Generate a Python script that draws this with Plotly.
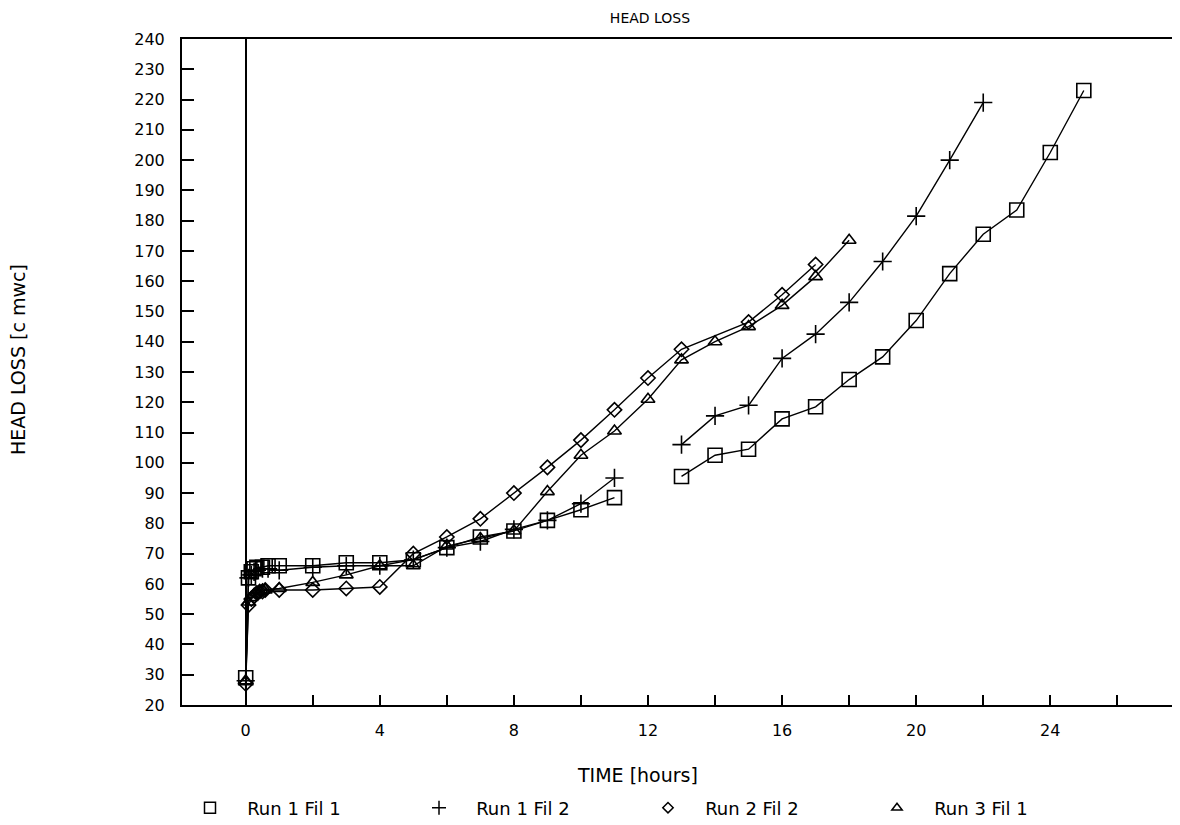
import plotly.graph_objects as go

# ---- data (time in hours, head loss in cm water column) ----
t_run1_fil1 = [0, 0.083, 0.167, 0.25, 0.333, 0.5, 0.667, 1, 2, 3, 4, 5, 6, 7, 8, 9, 10, 11, 12,
               13, 14, 15, 16, 17, 18, 19, 20, 21, 22, 23, 24, 25]
hl_run1_fil1 = [29, 62, 64, 65, 65.5, 65.5, 66, 66, 66, 67, 67, 68, 72, 75.5, 77.5, 81, 84.5, 88.5, None,
                95.5, 102.5, 104.5, 114.5, 118.5, 127.5, 135, 147, 162.5, 175.5, 183.5, 202.5, 223]

t_run1_fil2 = [0, 0.083, 0.167, 0.25, 0.333, 0.5, 0.667, 1, 2, 3, 4, 5, 6, 7, 8, 9, 10, 11, 12,
               13, 14, 15, 16, 17, 18, 19, 20, 21, 22]
hl_run1_fil2 = [28, 62, 63, 64, 64.5, 65, 65, 64.5, 65.5, 66, 66, 68, 72, 74, 78, 81, 86.5, 95, None,
                106, 115.5, 119, 134.5, 142.5, 153, 166.5, 181.5, 200, 219]

t_run2_fil2 = [0, 0.083, 0.167, 0.25, 0.333, 0.417, 0.5, 0.583, 1, 2, 3, 4, 5, 6, 7, 8, 9, 10, 11, 12,
               13, 15, 16, 17]
hl_run2_fil2 = [27, 53, 55, 56, 57, 57.5, 57.5, 58, 58, 58, 58.5, 59, 70, 75.5, 81.5, 90, 98.5, 107.5, 117.5, 128,
                137.5, 146.5, 155.5, 165.5]

t_run3_fil1 = [0, 0.083, 0.167, 0.25, 0.333, 0.417, 0.5, 0.583, 1, 2, 3, 4, 5, 6, 7, 8, 9, 10, 11, 12,
               13, 14, 15, 16, 17, 18]
hl_run3_fil1 = [28, 54, 55.5, 56.5, 57, 57.5, 58, 58, 58.5, 60.5, 63, 66, 66, 72.5, 75, 77.5, 90.5, 102.5, 110.5, 121,
                134, 140, 145, 152, 161.5, 173.5]

series_names = ["Run 1 Fil 1", "Run 1 Fil 2", "Run 2 Fil 2", "Run 3 Fil 1"]
x_tick_vals = [0, 4, 8, 12, 16, 20, 24]
y_tick_vals = list(range(20, 250, 10))

FONT = "DejaVu Sans"
W, H = 1172, 817  # page body has an 8px margin

series = [
    (series_names[0], t_run1_fil1, hl_run1_fil1, "square-open", 14),
    (series_names[1], t_run1_fil2, hl_run1_fil2, "cross-thin", 13),
    (series_names[2], t_run2_fil2, hl_run2_fil2, "diamond-open", 11),
    (series_names[3], t_run3_fil1, hl_run3_fil1, "triangle-up-open", 12),
]

fig = go.Figure()
for name, tx, hy, sym, sz in series:
    fig.add_trace(go.Scatter(
        x=tx, y=hy, mode="lines+markers", name=name, showlegend=False,
        connectgaps=False,
        line=dict(color="black", width=1.4),
        marker=dict(symbol=sym, size=sz, color="black",
                    line=dict(color="black", width=1.6)),
    ))
# legend entries (markers only, as in the reference)
for name, tx, hy, sym, sz in series:
    fig.add_trace(go.Scatter(
        x=[None], y=[None], mode="markers", name="   " + name,
        marker=dict(symbol=sym, size=sz - 3, color="black",
                    line=dict(color="black", width=1.5)),
    ))

fig.update_layout(
    width=W, height=H,
    paper_bgcolor="white", plot_bgcolor="white",
    margin=dict(l=174, r=4, t=31, b=120, autoexpand=False),
    font=dict(family=FONT, color="black", size=15),
    title=dict(text="HEAD LOSS", x=642 / W, xanchor="center", xref="container",
               y=1 - 10 / H, yanchor="middle", yref="container",
               font=dict(family=FONT, size=14, color="black")),
    showlegend=True,
    legend=dict(orientation="h", xref="container", yref="container",
                x=182 / W, xanchor="left", y=1 - 800 / H, yanchor="middle",
                entrywidth=184, entrywidthmode="pixels",
                font=dict(family=FONT, size=18, color="black"),
                bgcolor="rgba(0,0,0,0)"),
    xaxis=dict(
        range=[-1.9, 27.75], showgrid=False,
        tickmode="array", tickvals=x_tick_vals, ticktext=[str(v) for v in x_tick_vals],
        ticks="inside", ticklen=10, tickwidth=1.5, tickcolor="black",
        minor=dict(dtick=2, tick0=0, ticks="inside", ticklen=10, tickwidth=1.5, tickcolor="black"),
        showline=True, linecolor="black", linewidth=2, mirror=True,
        zeroline=True, zerolinecolor="black", zerolinewidth=1.5,
        tickfont=dict(family=FONT, size=16, color="black"),
        ticklabelstandoff=10,
    ),
    yaxis=dict(
        range=[20, 240], showgrid=False,
        tickmode="array", tickvals=y_tick_vals, ticktext=[str(v) for v in y_tick_vals],
        ticks="inside", ticklen=12, tickwidth=1.5, tickcolor="black",
        showline=True, linecolor="black", linewidth=2, mirror=True,
        zeroline=False,
        tickfont=dict(family=FONT, size=16, color="black"),
        ticklabelstandoff=12,
    ),
    annotations=[
        dict(text="TIME [hours]", xref="paper", yref="paper",
             x=(637 - 182) / 994, y=(705 - 775) / 666, xanchor="center", yanchor="middle",
             showarrow=False, font=dict(family=FONT, size=19, color="black")),
        dict(text="HEAD LOSS [c mwc]", xref="paper", yref="paper",
             x=(18 - 182) / 994, y=(705 - 360) / 666, xanchor="center", yanchor="middle",
             textangle=-90, showarrow=False, font=dict(family=FONT, size=19, color="black")),
    ],
)

fig.write_html("out.html")
